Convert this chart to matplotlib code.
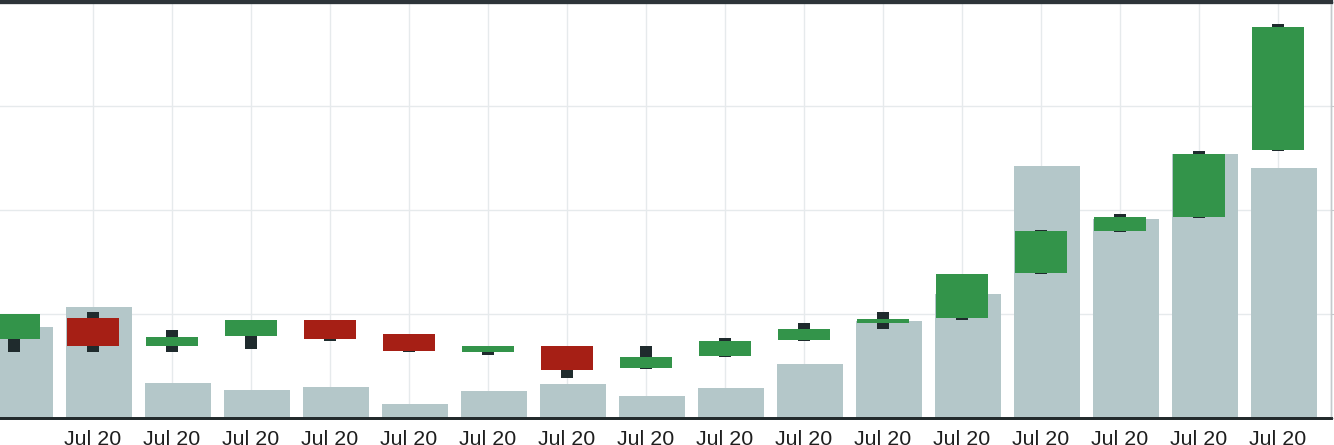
import matplotlib

matplotlib.use("Agg")

import matplotlib.pyplot as plt
import numpy as np

plt.rcParams["font.family"] = ["Liberation Sans", "DejaVu Sans"]

# daily candles, price scale 0-40, volume in millions
dates = ["Jul 20"] * 17
opens = [7.60, 9.62, 6.92, 7.88, 9.42, 8.08, 6.35, 6.92, 4.81, 5.96, 7.50, 9.13, 9.62, 13.94, 17.98, 19.33, 25.77]
closes = [10.00, 6.92, 7.79, 9.42, 7.60, 6.44, 6.92, 4.62, 5.87, 7.40, 8.56, 9.52, 13.85, 17.98, 19.33, 25.38, 37.60]
highs = [10.00, 10.19, 8.46, 9.42, 9.42, 8.08, 6.92, 6.92, 6.92, 7.69, 9.13, 10.19, 13.85, 18.08, 19.62, 25.67, 37.88]
lows = [6.35, 6.35, 6.35, 6.63, 7.40, 6.35, 6.06, 3.85, 4.71, 5.87, 7.40, 8.56, 9.42, 13.85, 17.88, 19.23, 25.67]
volumes = [8.75, 10.67, 3.37, 2.69, 2.98, 1.35, 2.60, 3.27, 2.12, 2.88, 5.19, 9.33, 11.92, 24.23, 19.13, 25.38, 24.04]

UP = "#33944a"
DOWN = "#a61f15"
WICK = "#1f2b2d"
VOL = "#b4c7c9"
GRID = "#e6eaec"


def main() -> None:
    x = np.arange(len(dates))
    o = np.array(opens)
    c = np.array(closes)
    colors = [UP if cc >= oo else DOWN for oo, cc in zip(o, c)]

    fig = plt.figure(figsize=(13.34, 4.45), dpi=100)
    ax_vol = fig.add_axes([0.0, 1 - 418 / 445, 1331 / 1334, 416 / 445])
    ax = ax_vol.twinx()
    ax.set_zorder(ax_vol.get_zorder() + 1)
    ax.patch.set_visible(False)

    # volume in the back, shifted a little right of each candle
    ax_vol.bar(x + 0.07, volumes, width=0.835, color=VOL, zorder=2)
    ax_vol.set_ylim(0, 40)
    ax_vol.set_yticks([0, 10, 20, 30, 40])
    ax_vol.grid(True, color=GRID, linewidth=1)
    ax_vol.set_axisbelow(True)

    # wicks then bodies
    ax.bar(x, np.array(highs) - np.array(lows), bottom=lows, width=0.15, color=WICK, zorder=2)
    ax.bar(x, np.abs(c - o), bottom=np.minimum(o, c), width=0.66, color=colors, zorder=3)
    ax.set_ylim(0, 40)
    ax.set_yticks([0, 10, 20, 30, 40])

    xmin, xmax = -14 / 79, (1331 - 14) / 79
    for a in (ax, ax_vol):
        a.set_xlim(xmin, xmax)
        a.spines["left"].set_visible(False)
        a.spines["top"].set_color("#2d3439")
        a.spines["top"].set_linewidth(3)
        a.spines["bottom"].set_color("#222a2c")
        a.spines["bottom"].set_linewidth(2)
        a.spines["right"].set_color("#c4c9cc")
        a.spines["right"].set_linewidth(1)

    ax_vol.set_xticks(x[1:])
    ax_vol.set_xticklabels(dates[1:], fontsize=15.4, color="#1e1e1e")
    ax_vol.tick_params(axis="x", length=0, pad=8.5)
    ax_vol.tick_params(axis="y", left=False, labelleft=False, right=False)
    ax.tick_params(axis="y", right=True, length=2, color="#c4c9cc", labelright=False)
    ax.tick_params(axis="x", length=0)

    fig.savefig("out.png", dpi=100)
    plt.close(fig)


if __name__ == "__main__":
    main()
